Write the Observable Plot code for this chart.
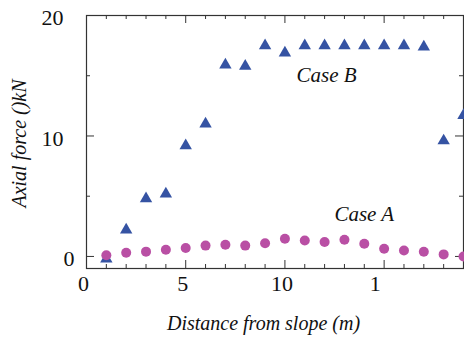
<!DOCTYPE html>
<html>
<head>
<meta charset="utf-8">
<script src="https://cdn.jsdelivr.net/npm/d3@7"></script>
<script src="https://cdn.jsdelivr.net/npm/@observablehq/plot@0.6"></script>
<style>
  html, body { margin: 0; padding: 0; background: #fff; font-family: "Liberation Serif", serif; }
  svg { display: block; }
</style>
</head>
<body>
<div id="chart"></div>
<script>
// Data
const distance = [1,2,3,4,5,6,7,8,9,10,11,12,13,14,15,16,17,18,19];
const caseB = [-0.2,2.2,4.8,5.2,9.2,11.0,15.9,15.8,17.5,16.9,17.5,17.5,17.5,17.5,17.5,17.5,17.4,9.6,11.7];
const caseA = [0.1,0.3,0.4,0.55,0.7,0.9,0.97,0.9,1.1,1.47,1.33,1.2,1.38,1.05,0.64,0.5,0.39,0.17,0.0];
const xTickValues = [0,5,10,15];
const xTickLabels = ["0","5","10","1"];
const yTickValues = [0,10,20];
const yTickLabels = ["0","10","20"];
const seriesLabels = [
  {text: "Case B", x: 12.1, y: 15.0},
  {text: "Case A", x: 14.0, y: 3.5}
];
const xTitle = "Distance from slope (m)";
const yTitle = "Axial force ()kN";

const W = 464, H = 337;
const mL = 86, mR = 1, mT = 15, mB = 69;
const fw = W - mL - mR, fh = H - mT - mB;
const font = "Liberation Serif";

function draw() {
  const rowsB = distance.map((d, i) => ({x: d, y: caseB[i]}));
  const rowsA = distance.map((d, i) => ({x: d, y: caseA[i]}));
  const xMinor = d3.range(0, 20).filter(v => !xTickValues.includes(v));
  const yMinor = [5, 15];
  const xLab = new Map(xTickValues.map((v, i) => [v, xTickLabels[i]]));
  const yLab = new Map(yTickValues.map((v, i) => [v, yTickLabels[i]]));
  const tickStyle = {stroke: "#333", strokeWidth: 1};
  const major = 8, minor = 4;
  const txt = {fontFamily: font, fill: "#111"};

  const plot = Plot.plot({
    width: W, height: H,
    marginLeft: mL, marginRight: mR, marginTop: mT, marginBottom: mB,
    style: {fontFamily: font},
    x: {domain: [0, 19]},
    y: {domain: [-1, 20]},
    marks: [
      Plot.frame({stroke: "#333", strokeWidth: 1.2}),
      Plot.tickX(xTickValues, {x: d => d, insetTop: fh - major, ...tickStyle}),
      Plot.tickX(xMinor, {x: d => d, insetTop: fh - minor, ...tickStyle}),
      Plot.tickX(xTickValues, {x: d => d, insetBottom: fh - major, ...tickStyle}),
      Plot.tickX(xMinor, {x: d => d, insetBottom: fh - minor, ...tickStyle}),
      Plot.tickY(yTickValues, {y: d => d, insetRight: fw - major, ...tickStyle}),
      Plot.tickY(yMinor, {y: d => d, insetRight: fw - minor, ...tickStyle}),
      Plot.tickY(yTickValues, {y: d => d, insetLeft: fw - major, ...tickStyle}),
      Plot.tickY(yMinor, {y: d => d, insetLeft: fw - minor, ...tickStyle}),
      Plot.axisX(xTickValues.slice(0, 3), {tickSize: 0, tickPadding: 7, dx: -3, tickFormat: d => xLab.get(d), fontSize: 22, ...txt, label: null}),
      Plot.axisX(xTickValues.slice(3), {tickSize: 0, tickPadding: 7, dx: -9, tickFormat: d => xLab.get(d), fontSize: 22, ...txt, label: null}),
      Plot.axisY([10, 20], {tickSize: 0, tickPadding: 23, dy: 2.5, tickFormat: d => yLab.get(d), fontSize: 22, ...txt, label: null}),
      Plot.axisY([0], {tickSize: 0, tickPadding: 12, dy: 2.5, tickFormat: d => yLab.get(d), fontSize: 22, ...txt, label: null}),
      Plot.dot(rowsB, {x: "x", y: "y", symbol: "triangle", r: 4.6, fill: "#3553a3", stroke: "none"}),
      Plot.dot(rowsA, {x: "x", y: "y", symbol: "circle", r: 5, fill: "#b94fa4", stroke: "none"}),
      Plot.text(seriesLabels, {x: "x", y: "y", text: "text", fontSize: 21, fontStyle: "italic", ...txt}),
      Plot.text([xTitle], {frameAnchor: "bottom", textAnchor: "middle", dy: 61, dx: -11.5, fontSize: 20, fontStyle: "italic", ...txt, text: d => d}),
      Plot.text([yTitle], {frameAnchor: "left", textAnchor: "middle", lineAnchor: "middle", dx: -67, dy: 1.5, rotate: -90, fontSize: 20, fontStyle: "italic", ...txt, text: d => d})
    ]
  });
  document.getElementById("chart").appendChild(plot);
}

let done = false;
function once() { if (!done) { done = true; draw(); } }
if (document.fonts && document.fonts.load) {
  Promise.all([
    document.fonts.load("22px 'Liberation Serif'"),
    document.fonts.load("italic 20px 'Liberation Serif'")
  ]).then(once, once);
  setTimeout(once, 300);
} else {
  once();
}
</script>
</body>
</html>
